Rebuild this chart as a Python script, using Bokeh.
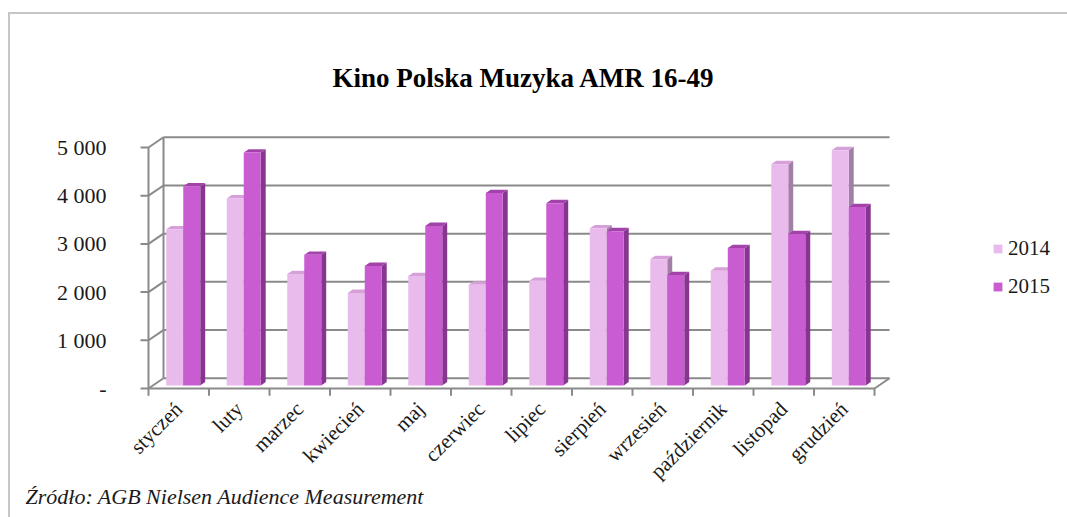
import math
from bokeh.plotting import figure
from bokeh.models import (FixedTicker, Legend, LegendItem, Title, Range1d, InlineStyleSheet)
from bokeh.embed import file_html
from bokeh.resources import INLINE

# ---------------- data ----------------
months = ["styczeń", "luty", "marzec", "kwiecień", "maj", "czerwiec", "lipiec",
          "sierpień", "wrzesień", "październik", "listopad", "grudzień"]
series_names = ["2014", "2015"]
values_2014 = [3240, 3880, 2310, 1920, 2270, 2090, 2170, 3260, 2620, 2380, 4590, 4880]
values_2015 = [4130, 4830, 2710, 2480, 3310, 3990, 3780, 3200, 2290, 2850, 3140, 3700]
y_ticks = [0, 1000, 2000, 3000, 4000, 5000]
y_tick_labels = ["-", "1 000", "2 000", "3 000", "4 000", "5 000"]
title_text = "Kino Polska Muzyka  AMR 16-49"
source_text = "Źródło: AGB Nielsen Audience Measurement"

# ---------------- style / 3D geometry ----------------
DX, DY = 0.248, 212          # full depth offset (category units, value units)
BAR_W = 0.281                # bar width in category units
F_FRONT, F_DEPTH = 0.30, 0.33
TICK_C = 0.132               # y tick length in category units
TICK_V = 150                 # x tick length in value units
GRID_C = "#8a8a8a"
FONT = "Liberation Serif"
TXT = "#1a1a1a"
face = {"2014": ("#E9BBEC", "#D6A0D8", "#A27FA6"),
        "2015": ("#C95CD0", "#A243AA", "#873690")}

n = len(months)
cats = list(range(1, n + 1))
x0 = 0.5
x_end = x0 + n
ymax = max(y_ticks)

p = figure(width=1066, height=512, output_backend="svg", toolbar_location=None,
           x_range=Range1d(-0.095, 15.673), y_range=Range1d(-166, 6037),
           min_border_left=112, min_border_right=0, min_border_top=97,
           min_border_bottom=116)
p.outline_line_color = None
p.xgrid.visible = False
p.ygrid.visible = False
p.background_fill_color = "white"
p.border_fill_color = "white"
p.stylesheets = [InlineStyleSheet(css=(
    ":host::after{content:'';position:fixed;left:8px;top:12px;right:0;bottom:0;"
    "border-top:2px solid #c6c6c6;border-left:2px solid #c6c6c6;"
    "pointer-events:none;}"))]

# back wall gridlines
p.multi_line(xs=[[x0 + DX, x_end + DX] for _ in y_ticks],
             ys=[[k + DY, k + DY] for k in y_ticks], line_color=GRID_C, line_width=2)
# left wall slants
p.multi_line(xs=[[x0, x0 + DX] for _ in y_ticks],
             ys=[[k, k + DY] for k in y_ticks], line_color=GRID_C, line_width=2)
# left wall back edge & front value axis line
p.multi_line(xs=[[x0 + DX, x0 + DX], [x0, x0]],
             ys=[[DY, ymax + DY], [0, ymax]], line_color=GRID_C, line_width=2)
# floor front edge and right edge
p.multi_line(xs=[[x0, x_end], [x_end, x_end + DX]],
             ys=[[0, 0], [0, DY]], line_color=GRID_C, line_width=2)
# category boundary ticks
p.segment(x0=[x0 + i for i in range(n + 1)], y0=[0] * (n + 1),
          x1=[x0 + i for i in range(n + 1)], y1=[-TICK_V] * (n + 1),
          line_color=GRID_C, line_width=2)
# value ticks on the front axis
p.segment(x0=[x0 - TICK_C] * len(y_ticks), y0=y_ticks,
          x1=[x0] * len(y_ticks), y1=y_ticks, line_color=GRID_C, line_width=2)

sx, sy = F_DEPTH * DX, F_DEPTH * DY
renderers = {}
for s, (name, vals) in enumerate(zip(series_names, [values_2014, values_2015])):
    fc, tc, sc = face[name]
    lefts = [c - BAR_W + s * BAR_W + F_FRONT * DX for c in cats]
    rights = [l + BAR_W for l in lefts]
    bottom = F_FRONT * DY
    tops = [bottom + v for v in vals]
    p.patches(xs=[[r, r + sx, r + sx, r] for r in rights],
              ys=[[bottom, bottom + sy, t + sy, t] for t in tops],
              fill_color=sc, line_color=None)
    p.patches(xs=[[l, l + sx, r + sx, r] for l, r in zip(lefts, rights)],
              ys=[[t, t + sy, t + sy, t] for t in tops],
              fill_color=tc, line_color=None)
    renderers[name] = p.quad(left=lefts, right=rights, bottom=bottom, top=tops,
                             fill_color=fc, line_color=None)

# y axis (labels only; tick marks drawn on the front plane)
p.yaxis.ticker = FixedTicker(ticks=y_ticks)
p.yaxis.major_label_overrides = dict(zip(y_ticks, y_tick_labels))
p.yaxis.minor_tick_line_color = None
p.yaxis.major_tick_line_color = None
p.yaxis.axis_line_color = None
p.yaxis.major_tick_out = 0
p.yaxis.major_tick_in = 0
p.yaxis.major_label_standoff = 6
p.yaxis.major_label_text_font = FONT
p.yaxis.major_label_text_font_size = "22px"
p.yaxis.major_label_text_color = TXT

# x axis (month labels at category centres)
p.xaxis.ticker = FixedTicker(ticks=cats)
p.xaxis.major_label_overrides = dict(zip(cats, months))
p.xaxis.major_label_orientation = math.pi / 4
p.xaxis.minor_tick_line_color = None
p.xaxis.major_tick_line_color = None
p.xaxis.major_tick_out = 0
p.xaxis.major_tick_in = 0
p.xaxis.axis_line_color = None
p.xaxis.major_label_standoff = 9
p.xaxis.major_label_text_font = FONT
p.xaxis.major_label_text_font_size = "21px"
p.xaxis.major_label_text_color = TXT

# title
p.title.text = title_text
p.title.text_font = FONT
p.title.text_font_size = "27px"
p.title.text_font_style = "bold"
p.title.align = "left"
p.title.offset = 220
p.title.text_color = "black"

# source note below the month labels
p.add_layout(Title(text=source_text, align="left", offset=-87, standoff=-22,
                   vertical_align="top", text_font=FONT, text_font_size="22px",
                   text_font_style="italic", text_color=TXT), "below")

# legend
legend = Legend(items=[LegendItem(label=nm, renderers=[renderers[nm]]) for nm in series_names],
                location=(880, 97), glyph_width=11, glyph_height=11, label_standoff=5,
                spacing=13, padding=0, margin=0, border_line_color=None,
                background_fill_alpha=0, label_text_font=FONT,
                label_text_font_size="21px", label_text_color=TXT)
p.add_layout(legend, "center")

open("out.html", "w").write(file_html(p, INLINE))
